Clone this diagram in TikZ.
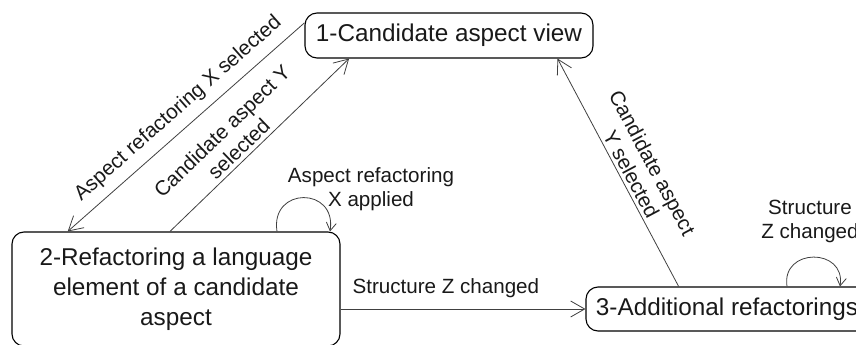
\documentclass[tikz,border=0pt]{standalone}
\usepackage{fontspec}
\setmainfont{Liberation Sans}
\usetikzlibrary{arrows.meta,calc}
\begin{document}
\begin{tikzpicture}[x=1pt,y=-1pt,
  state/.style={draw=black, line width=1.1pt, rounded corners=12pt, inner sep=0pt,
    font=\fontsize{24.3}{30}\selectfont, align=center, text=black!90},
  trans/.style={draw=black!75, line width=0.8pt, -{Straight Barb[length=14pt,width=16pt]}},
  looptrans/.style={draw=black!75, line width=0.8pt, -{Straight Barb[length=8pt,width=10pt]}},
  lbl/.style={font=\fontsize{20.6}{24}\selectfont, align=center, text=black!90, inner xsep=0pt},
]
\useasboundingbox (0,0) rectangle (856,345);

\node[state, minimum width=288pt, minimum height=45pt] (n1) at (449,35.5) {1-Candidate aspect view};
\node[state, minimum width=328pt, minimum height=114pt] (n2) at (176,289)
  {2-Refactoring a language\\element of a candidate\\aspect};
\node[state, minimum width=282pt, minimum height=44pt] (n3) at (727,309) {3-Additional refactorings};

% transitions
\draw[trans] (n1.175.83) -- (n2.152.4)
  node[lbl, pos=0.48, sloped, anchor=south, inner ysep=9pt] (t1) {Aspect refactoring X selected};
\draw[trans] (n2.96) -- (n1.193.1)
  node[lbl, pos=0.43, sloped, anchor=south, inner ysep=4pt] (t2) {Candidate aspect Y\\selected};
\draw[trans] (n3.155.4) -- (n1.348.2)
  node[lbl, pos=0.47, sloped, anchor=south, inner ysep=3pt] (t3) {Candidate aspect\\Y selected};
\draw[trans] (n2.east |- n3.west) -- (n3.west)
  node[lbl, pos=0.43, anchor=south, inner ysep=10.5pt] (t4) {Structure Z changed};

% self loops
\coordinate (l2a) at ($(n2.north)+(101,0)$);
\coordinate (l2b) at ($(n2.north)+(154,0)$);
\draw[looptrans] (l2a) .. controls ($(l2a)+(-7,-45)$) and ($(l2b)+(7,-45)$) .. (l2b);
\node[lbl, anchor=north, inner sep=0pt] (t5) at (371,167) {Aspect refactoring\\X applied};

\coordinate (l3a) at ($(n3.north)+(60,0)$);
\coordinate (l3b) at ($(n3.north)+(113,0)$);
\draw[looptrans] (l3a) .. controls ($(l3a)+(-6,-39)$) and ($(l3b)+(6,-39)$) .. (l3b);
\node[lbl, anchor=north, inner sep=0pt] (t6) at (810,200) {Structure\\Z changed};
\end{tikzpicture}
\end{document}
